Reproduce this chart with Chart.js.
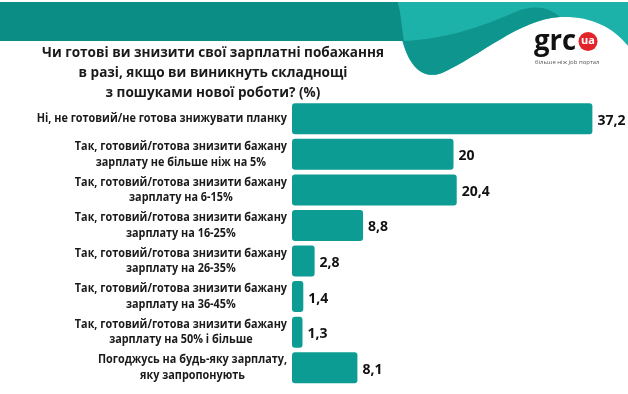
<!DOCTYPE html>
<html>
<head>
<meta charset="utf-8">
<script src="https://cdn.jsdelivr.net/npm/chart.js@4"></script>
<style>
  html, body { margin: 0; padding: 0; background: #fff; }
  #wrap { width: 628px; height: 394px; }
</style>
</head>
<body>
<div id="wrap"><canvas id="myChart"></canvas></div>
<script>
const ctx = document.getElementById('myChart').getContext('2d');

const titleLines = [
  'Чи готові ви знизити свої зарплатні побажання',
  'в разі, якщо ви виникнуть складнощі',
  'з пошуками нової роботи? (%)'
];

const labels = [
  ['Ні, не готовий/не готова знижувати планку'],
  ['Так, готовий/готова знизити бажану', 'зарплату не більше ніж на 5%'],
  ['Так, готовий/готова знизити бажану', 'зарплату на 6-15%'],
  ['Так, готовий/готова знизити бажану', 'зарплату на 16-25%'],
  ['Так, готовий/готова знизити бажану', 'зарплату на 26-35%'],
  ['Так, готовий/готова знизити бажану', 'зарплату на 36-45%'],
  ['Так, готовий/готова знизити бажану', 'зарплату на 50% і більше'],
  ['Погоджусь на будь-яку зарплату,', 'яку запропонують']
];

const values = [37.2, 20, 20.4, 8.8, 2.8, 1.4, 1.3, 8.1];

const font = '"Open Sans", "DejaVu Sans", sans-serif';

// narrow text: the original uses a semi-condensed face
function narrowText(c, t, x, y, sx) {
  c.save();
  c.translate(x, y);
  c.scale(sx, 1);
  c.fillText(t, 0, 0);
  c.restore();
}

// header: teal band, wave and logo
const header = {
  id: 'header',
  beforeDraw(chart) {
    const c = chart.ctx;
    c.save();
    c.fillStyle = '#fff';
    c.fillRect(0, 0, chart.width, chart.height);

    // light teal area on the right
    c.fillStyle = '#1db2a9';
    c.beginPath();
    c.moveTo(398, 2);
    c.lineTo(628, 2);
    c.lineTo(628, 46);
    c.bezierCurveTo(612, 26, 590, 16, 560, 17);
    c.bezierCurveTo(520, 19, 480, 56, 442, 73);
    c.bezierCurveTo(420, 81, 408, 62, 402, 40);
    c.closePath();
    c.fill();

    // darker wave
    c.fillStyle = '#0e968e';
    c.beginPath();
    c.moveTo(403, 41);
    c.bezierCurveTo(440, 40, 480, 28, 515, 12);
    c.bezierCurveTo(532, 5, 548, 6, 560, 17);
    c.bezierCurveTo(520, 19, 480, 56, 442, 73);
    c.bezierCurveTo(420, 81, 408, 62, 403, 41);
    c.closePath();
    c.fill();

    // main band
    c.fillStyle = '#0b8d85';
    c.beginPath();
    c.moveTo(0, 2);
    c.lineTo(398, 2);
    c.bezierCurveTo(401, 15, 402, 30, 404, 41);
    c.lineTo(0, 41);
    c.closePath();
    c.fill();

    // logo
    c.fillStyle = '#111';
    c.font = 'bold 29px ' + font;
    c.textBaseline = 'alphabetic';
    c.textAlign = 'left';
    narrowText(c, 'grc', 534, 50, 0.95);
    c.fillStyle = '#e2232a';
    c.beginPath();
    c.arc(588, 41.5, 9.5, 0, Math.PI * 2);
    c.fill();
    c.fillStyle = '#fff';
    c.font = 'bold 11px ' + font;
    c.textAlign = 'center';
    c.textBaseline = 'middle';
    c.fillText('ua', 588, 40.5);
    c.fillStyle = '#555';
    c.font = '6px ' + font;
    c.textAlign = 'left';
    c.fillText('більше ніж job портал', 535, 62);
    c.restore();
  }
};

// title, category labels and value labels
const texts = {
  id: 'texts',
  afterDraw(chart) {
    const c = chart.ctx;
    const meta = chart.getDatasetMeta(0);
    c.save();
    c.fillStyle = '#1a1a1a';
    c.textBaseline = 'middle';

    c.font = 'bold 14.5px ' + font;
    c.textAlign = 'center';
    titleLines.forEach((t, i) => narrowText(c, t, 213, 53 + i * 20, 0.935));

    const sx = 0.905;
    c.font = 'bold 12px ' + font;
    labels.forEach((lines, i) => {
      const bar = meta.data[i];
      const w = sx * Math.max(...lines.map(l => c.measureText(l).width));
      const cx = 287 - w / 2;
      lines.forEach((l, j) => {
        narrowText(c, l, cx, bar.y + (j - (lines.length - 1) / 2) * 15.5, sx);
      });
    });

    c.font = 'bold 14px ' + font;
    c.textAlign = 'left';
    c.fillStyle = '#111';
    values.forEach((v, i) => {
      const bar = meta.data[i];
      c.fillText(String(v).replace('.', ','), bar.x + 5, bar.y + 2);
    });
    c.restore();
  }
};

const data = {
  labels,
  datasets: [{
    data: values,
    backgroundColor: '#0d9c93',
    borderRadius: 3,
    borderSkipped: false,
    barPercentage: 0.87,
    categoryPercentage: 1
  }]
};

const config = {
  type: 'bar',
  data: data,
  options: {
    indexAxis: 'y',
    responsive: true,
    maintainAspectRatio: false,
    animation: false,
    layout: {
      padding: { left: 292, right: 13, top: 101, bottom: 8.5 }
    },
    plugins: {
      legend: { display: false },
      tooltip: { enabled: false }
    },
    scales: {
      x: { display: false, min: 0, max: 40 },
      y: { display: false }
    }
  },
  plugins: [header, texts]
};

const myChart = new Chart(ctx, config);
</script>
</body>
</html>
